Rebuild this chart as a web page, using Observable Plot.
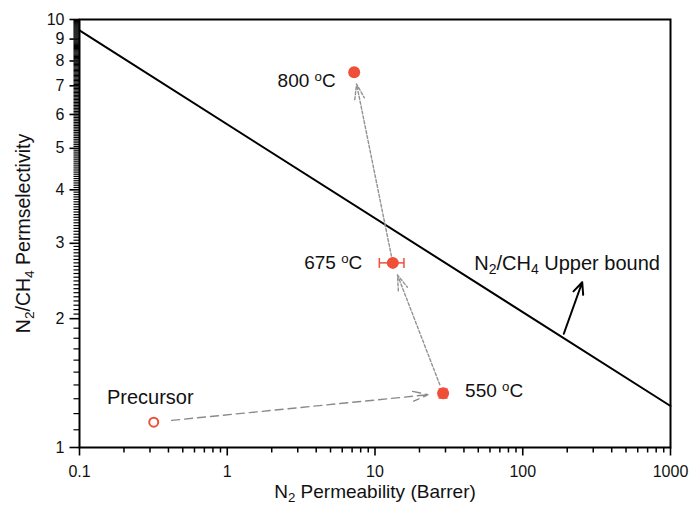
<!DOCTYPE html>
<html><head><meta charset="utf-8">
<script src="https://cdn.jsdelivr.net/npm/d3@7"></script>
<script src="https://cdn.jsdelivr.net/npm/@observablehq/plot@0.6"></script>
<style>
body{margin:0;background:#fff}
svg{font-family:"Liberation Sans",Arial,sans-serif}
</style>
</head><body><div id="chart"></div>
<script>
// ---- data ----
const sampleLabels = ["Precursor", "550 ^oC", "675 ^oC", "800 ^oC"];
const n2Permeability = [0.318, 28.9, 13.2, 7.23];
const n2ch4Selectivity = [1.146, 1.339, 2.70, 7.53];

// horizontal error bar (675 °C)
const xErrY = [2.70];
const xErrLow = [10.7];
const xErrHigh = [15.7];
// vertical error bar (550 °C)
const yErrX = [28.9];
const yErrLow = [1.305];
const yErrHigh = [1.37];

// upper bound line
const boundPermeability = [0.1, 1000];
const boundSelectivity = [9.43, 1.25];
const boundLabel = "N_2/CH_4 Upper bound";
// pointer arrow to the upper bound
const pointerX = [189.6, 252.6];
const pointerY = [1.844, 2.433];

// axis ticks
const xMajor = [0.1, 1, 10, 100, 1000];
const yMajor = [1, 2, 3, 4, 5, 6, 7, 8, 9, 10];
const xTitle = "N_2 Permeability (Barrer)";
const yTitle = "N_2/CH_4 Permselectivity";

// ---- derived minor tick positions ----
const xMinor = [];
for (const e of [0.1, 1, 10, 100]) for (let k = 2; k <= 9; k++) xMinor.push(+(k * e).toPrecision(3));
const yMinor = [];
for (let v = 11; v < 20; v++) yMinor.push(v / 10);
for (let v = 41; v < 200; v++) if (v % 20 !== 0) yMinor.push(v / 20);

const red = "#ef4f38";
const gray = "#939393";
const capV = {draw(ctx, size) { const h = Math.sqrt(size / Math.PI); ctx.moveTo(0, -h); ctx.lineTo(0, h); }};
const capH = {draw(ctx, size) { const h = Math.sqrt(size / Math.PI); ctx.moveTo(-h, 0); ctx.lineTo(h, 0); }};
const P = i => n2Permeability[i], S = i => n2ch4Selectivity[i];
const xBase = () => xMajor[0], yBase = () => yMajor[0];

function arrow(a, b, opts) {
  return Plot.arrow([0], {x1: () => P(a), y1: () => S(a), x2: () => P(b), y2: () => S(b),
    stroke: gray, strokeWidth: 1.4, headLength: 17, headAngle: 36, ...opts});
}
function label(i, opts) {
  return Plot.text([i], {x: P, y: S, text: j => sampleLabels[j], fontSize: 19, fill: "#111", ...opts});
}

const plot = Plot.plot({
  width: 693, height: 513,
  marginLeft: 79, marginRight: 23, marginTop: 19, marginBottom: 66,
  style: {fontFamily: "Liberation Sans, Arial, sans-serif", fontSize: "16px", color: "#000", background: "#fff", overflow: "visible"},
  x: {type: "log", domain: [0.1, 1000]},
  y: {type: "log", domain: [1, 10]},
  marks: [
    // tick labels
    Plot.axisX(xMajor, {tickSize: 0, tickPadding: 18, tickFormat: d => String(d), label: null, fontSize: 16, fill: "#111"}),
    Plot.axisY(yMajor, {tickSize: 0, tickPadding: 15, tickFormat: d => String(d), label: null, fontSize: 16, fill: "#111"}),
    // ticks (outward), drawn as short line symbols on the axes
    Plot.dot(xMinor, {x: d => d, y: yBase, symbol: capV, r: 2.5, dy: 2.5, stroke: "#000", strokeWidth: 1.5, fill: "none"}),
    Plot.dot(xMajor, {x: d => d, y: yBase, symbol: capV, r: 4, dy: 4, stroke: "#000", strokeWidth: 1.6, fill: "none"}),
    Plot.dot(yMinor, {x: xBase, y: d => d, symbol: capH, r: 3, dx: -3, stroke: "#000", strokeWidth: 1.2, fill: "none"}),
    Plot.dot(yMajor, {x: xBase, y: d => d, symbol: capH, r: 5, dx: -5, stroke: "#000", strokeWidth: 1.6, fill: "none"}),
    Plot.frame({stroke: "#000", strokeWidth: 2}),
    Plot.line(boundPermeability.map((d, i) => i), {x: i => boundPermeability[i], y: i => boundSelectivity[i], stroke: "#000", strokeWidth: 2}),
    Plot.arrow([0], {x1: () => pointerX[0], y1: () => pointerY[0], x2: () => pointerX[1], y2: () => pointerY[1],
      stroke: "#000", strokeWidth: 2, headLength: 9.5, headAngle: 48}),
    arrow(0, 1, {strokeDasharray: "8,5", insetStart: 18, insetEnd: 15, stroke: "#8a8a8a"}),
    arrow(1, 2, {strokeDasharray: "3,2", insetStart: 9, insetEnd: 13}),
    arrow(2, 3, {strokeDasharray: "3,2", insetStart: 7, insetEnd: 12}),
    // error bars
    Plot.link([0], {x1: i => xErrLow[i], x2: i => xErrHigh[i], y1: i => xErrY[i], y2: i => xErrY[i], stroke: red, strokeWidth: 1.5}),
    Plot.dot([0, 0], {x: (i, k) => k === 0 ? xErrLow[i] : xErrHigh[i], y: i => xErrY[i], symbol: capV, r: 5, stroke: red, strokeWidth: 1.5, fill: "none"}),
    Plot.link([0], {x1: i => yErrX[i], x2: i => yErrX[i], y1: i => yErrLow[i], y2: i => yErrHigh[i], stroke: red, strokeWidth: 1.5}),
    Plot.dot([0, 0], {x: i => yErrX[i], y: (i, k) => k === 0 ? yErrLow[i] : yErrHigh[i], symbol: capH, r: 4.5, stroke: red, strokeWidth: 1.5, fill: "none"}),
    // points
    Plot.dot([1, 2, 3], {x: P, y: S, r: 6, fill: red, stroke: "none"}),
    Plot.dot([0], {x: P, y: S, r: 4.5, fill: "#fff", stroke: red, strokeWidth: 2}),
    // labels
    label(0, {dx: -3.5, dy: -24.5, fontSize: 20}),
    label(1, {dx: 22, dy: -2, textAnchor: "start"}),
    label(2, {dx: -30.5, dy: 0, textAnchor: "end"}),
    label(3, {dx: -18.5, dy: 9, textAnchor: "end"}),
    Plot.text([0], {x: () => pointerX[1], y: () => pointerY[1], text: () => boundLabel, dx: -108, dy: -18.5, textAnchor: "start", fontSize: 20, fill: "#111"}),
    // axis titles
    Plot.text([0], {frameAnchor: "bottom", dy: 50, text: () => xTitle, fontSize: 19, fill: "#111"}),
    Plot.text([0], {frameAnchor: "left", dx: -56, rotate: -90, textAnchor: "middle", text: () => yTitle, fontSize: 19.5, fill: "#111"})
  ]
});

// rich text: _x = subscript, ^x = superscript
d3.select(plot).selectAll("text").each(function () {
  const s = this.textContent;
  if (!/[_^]/.test(s)) return;
  const el = d3.select(this);
  el.text(null);
  let buf = "";
  const flush = () => { if (buf) { el.append("tspan").text(buf); buf = ""; } };
  for (let i = 0; i < s.length; i++) {
    const c = s[i];
    if ((c === "_" || c === "^") && i + 1 < s.length) {
      flush();
      el.append("tspan").attr("baseline-shift", c === "_" ? "-30%" : "45%").attr("font-size", "70%").text(s[i + 1]);
      i++;
    } else buf += c;
  }
  flush();
});

document.getElementById("chart").appendChild(plot);
</script>
</body></html>
